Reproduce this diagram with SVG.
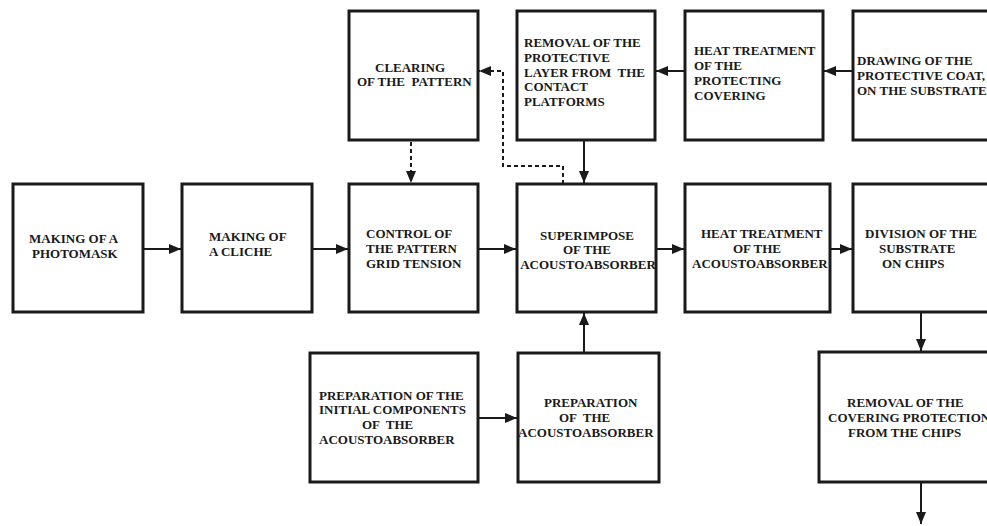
<svg xmlns="http://www.w3.org/2000/svg" width="987" height="526" viewBox="0 0 987 526">
<style>
.box{fill:none;stroke:#1a1a1a;stroke-width:3}
text{font-family:"Liberation Serif","Times New Roman",serif;font-weight:bold;font-size:13px;fill:#1a1a1a;white-space:pre}
.c{stroke:#1a1a1a;stroke-width:2;fill:none}
.d{stroke-dasharray:4 3}
</style>
<defs>
<marker id="ah" markerUnits="userSpaceOnUse" markerWidth="13" markerHeight="11" refX="12" refY="5" orient="auto">
<path d="M0,0 L12,5 L0,10 Z" fill="#1a1a1a"/>
</marker>
</defs>
<rect width="987" height="526" fill="#fff"/>

<g id="clearing">
<text x="375" y="72">CLEARING</text>
<text x="357" y="86">OF THE  PATTERN</text>
<rect class="box" x="349" y="11" width="129" height="129"/>
</g>
<g id="removal-layer">
<text x="524" y="47">REMOVAL OF THE</text>
<text x="524" y="62">PROTECTIVE</text>
<text x="524" y="77">LAYER FROM  THE</text>
<text x="524" y="91">CONTACT</text>
<text x="524" y="106">PLATFORMS</text>
<rect class="box" x="517" y="11" width="138" height="129"/>
</g>
<g id="heat-covering">
<text x="694" y="55">HEAT TREATMENT</text>
<text x="694" y="70">OF THE</text>
<text x="694" y="85">PROTECTING</text>
<text x="694" y="100">COVERING</text>
<rect class="box" x="685" y="11" width="138" height="129"/>
</g>
<g id="drawing">
<text x="857" y="65">DRAWING OF THE</text>
<text x="857" y="80">PROTECTIVE COAT,</text>
<text x="857" y="95">ON THE SUBSTRATE</text>
<rect class="box" x="853" y="11" width="140" height="129"/>
</g>

<g id="photomask">
<text x="29" y="243">MAKING OF A</text>
<text x="32" y="258">PHOTOMASK</text>
<rect class="box" x="13" y="184" width="130" height="128"/>
</g>
<g id="cliche">
<text x="209" y="241">MAKING OF</text>
<text x="209" y="256">A CLICHE</text>
<rect class="box" x="182" y="184" width="130" height="128"/>
</g>
<g id="control">
<text x="366" y="238">CONTROL OF</text>
<text x="366" y="253">THE PATTERN</text>
<text x="366" y="268">GRID TENSION</text>
<rect class="box" x="349" y="184" width="129" height="128"/>
</g>
<g id="superimpose">
<text x="587" y="240" text-anchor="middle">SUPERIMPOSE</text>
<text x="587" y="254" text-anchor="middle">OF THE</text>
<text x="588" y="269" text-anchor="middle">ACOUSTOABSORBER</text>
<rect class="box" x="517" y="184" width="139" height="128"/>
</g>
<g id="heat-acousto">
<text x="701" y="238">HEAT TREATMENT</text>
<text x="733" y="253">OF THE</text>
<text x="692" y="268">ACOUSTOABSORBER</text>
<rect class="box" x="685" y="184" width="145" height="128"/>
</g>
<g id="division">
<text x="865" y="238">DIVISION OF THE</text>
<text x="879" y="253">SUBSTRATE</text>
<text x="882" y="268">ON CHIPS</text>
<rect class="box" x="853" y="184" width="140" height="128"/>
</g>

<g id="prep-initial">
<text x="319" y="400">PREPARATION OF THE</text>
<text x="319" y="414">INITIAL COMPONENTS</text>
<text x="362" y="429">OF  THE</text>
<text x="319" y="444">ACOUSTOABSORBER</text>
<rect class="box" x="310" y="353" width="168" height="129"/>
</g>
<g id="preparation">
<text x="544" y="407">PREPARATION</text>
<text x="559" y="422">OF  THE</text>
<text x="518" y="437">ACOUSTOABSORBER</text>
<rect class="box" x="518" y="353" width="141" height="129"/>
</g>
<g id="removal-chips">
<text x="847" y="407">REMOVAL OF THE</text>
<text x="828" y="422">COVERING PROTECTION</text>
<text x="848" y="437">FROM THE CHIPS</text>
<rect class="box" x="819" y="352" width="174" height="130"/>
</g>

<g id="connectors">
<line class="c" x1="143" y1="249" x2="181" y2="249" marker-end="url(#ah)"/>
<line class="c" x1="312" y1="249" x2="348" y2="249" marker-end="url(#ah)"/>
<line class="c" x1="478" y1="249" x2="516" y2="249" marker-end="url(#ah)"/>
<line class="c" x1="656" y1="249" x2="684" y2="249" marker-end="url(#ah)"/>
<line class="c" x1="830" y1="249" x2="852" y2="249" marker-end="url(#ah)"/>
<line class="c" x1="853" y1="71" x2="824" y2="71" marker-end="url(#ah)"/>
<line class="c" x1="685" y1="71" x2="656" y2="71" marker-end="url(#ah)"/>
<line class="c" x1="584" y1="140" x2="584" y2="183" marker-end="url(#ah)"/>
<line class="c d" x1="411" y1="142" x2="411" y2="183" marker-end="url(#ah)"/>
<polyline class="c d" points="563,184 563,166 503,166 503,71 479,71" marker-end="url(#ah)"/>
<line class="c" x1="478" y1="418" x2="517" y2="418" marker-end="url(#ah)"/>
<line class="c" x1="584" y1="352" x2="584" y2="313" marker-end="url(#ah)"/>
<line class="c" x1="921" y1="312" x2="921" y2="351" marker-end="url(#ah)"/>
<line class="c" x1="921" y1="482" x2="921" y2="524" marker-end="url(#ah)"/>
</g>
</svg>
